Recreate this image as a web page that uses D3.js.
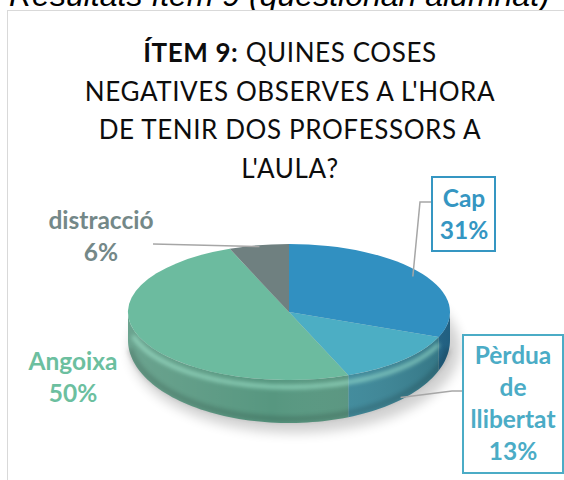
<!DOCTYPE html>
<html>
<head>
<meta charset="utf-8">
<script src="https://cdn.jsdelivr.net/npm/d3@7"></script>
<style>
  body { margin: 0; background: #fff; }
  svg { display: block; }
</style>
</head>
<body>
<div class="container"></div>
<script>
// data
var categories = ['Cap', 'Pèrdua de llibertat', 'Angoixa', 'distracció'];
var values = [31, 13, 50, 6];
var colors = ['#3190c1', '#4caec4', '#6cbb9f', '#6f8080'];
var labelColors = ['#3596c2', '#4bacc6', '#6cbf9f', '#748888'];
var titleBold = 'ÍTEM 9:';
var titleLines = [' QUINES COSES', 'NEGATIVES OBSERVES A L\'HORA', 'DE TENIR DOS PROFESSORS A', 'L\'AULA?'];
var caption = 'Resultats ítem 9 (qüestionari alumnat)';

var w = 564;
var h = 480;
var font = 'Lato, "Open Sans", sans-serif';

var svg = d3.select('.container')
  .append('svg')
  .attr('width', w)
  .attr('height', h);

var defs = svg.append('defs');
defs.append('filter').attr('id', 'blur6')
  .attr('x', '-20%').attr('y', '-20%').attr('width', '140%').attr('height', '140%')
  .append('feGaussianBlur').attr('stdDeviation', 6);
defs.append('filter').attr('id', 'blur2')
  .attr('x', '-20%').attr('y', '-50%').attr('width', '140%').attr('height', '200%')
  .append('feGaussianBlur').attr('stdDeviation', 2);

/* caption cut off at the top (as in the screenshot) + chart frame */
svg.append('text')
  .attr('x', 9).attr('y', 6)
  .attr('font-family', 'Liberation Sans, Arial, sans-serif')
  .attr('font-style', 'italic')
  .attr('font-size', '32px')
  .attr('fill', '#000')
  .text(caption);

svg.append('rect')
  .attr('x', 7.5).attr('y', 10.5)
  .attr('width', 620).attr('height', 520)
  .attr('fill', '#fff')
  .attr('stroke', '#d9d9d9');

/* title */
var title = svg.append('text')
  .attr('text-anchor', 'middle')
  .attr('font-family', font)
  .attr('font-size', '26px')
  .attr('letter-spacing', '0.6px')
  .attr('fill', '#0d0d0d');

titleLines.forEach(function(line, i) {
  var t = title.append('tspan')
    .attr('x', 290)
    .attr('y', 62 + i * 38.5);
  if (i === 0) {
    t.append('tspan').attr('font-weight', 'bold').text(titleBold);
    t.append('tspan').text(line);
  } else {
    t.text(line);
  }
});

/* pie geometry */
var cx = 289, cy = 312, rx = 161, ry = 68;
var cy2 = 340, ry2 = 83;

var pie = d3.pie().sort(null).value(function(d) { return d; });
var arcs = pie(values);

function topPt(a) { return [cx + rx * Math.sin(a), cy - ry * Math.cos(a)]; }
function botPt(a) { return [cx + rx * Math.sin(a), cy2 - ry2 * Math.cos(a)]; }

var line = d3.line();

function rimPts(a0, a1, fn) {
  var n = Math.max(2, Math.ceil((a1 - a0) * 30));
  return d3.range(n + 1).map(function(k) { return fn(a0 + (a1 - a0) * k / n); });
}

function sidePath(a0, a1) {
  var pts = rimPts(a0, a1, topPt).concat(rimPts(a0, a1, botPt).reverse());
  return line(pts) + 'Z';
}

/* shadow */
svg.append('ellipse')
  .attr('cx', cx + 6).attr('cy', cy2 + 8)
  .attr('rx', rx + 4).attr('ry', ry2 + 2)
  .attr('fill', '#000')
  .attr('opacity', 0.18)
  .attr('filter', 'url(#blur6)');

/* sides (front half only) */
var side = svg.append('g');
arcs.forEach(function(d, i) {
  var a0 = Math.max(d.startAngle, Math.PI / 2);
  var a1 = Math.min(d.endAngle, Math.PI * 3 / 2);
  if (a1 <= a0) return;
  side.append('path')
    .attr('d', sidePath(a0, a1))
    .attr('fill', d3.color(colors[i]).darker(0.6));
});

var sideGrad = defs.append('linearGradient').attr('id', 'sideShade')
  .attr('x1', 0).attr('x2', 1).attr('y1', 0).attr('y2', 0);
sideGrad.append('stop').attr('offset', '0%').attr('stop-color', '#fff').attr('stop-opacity', 0.12);
sideGrad.append('stop').attr('offset', '45%').attr('stop-color', '#fff').attr('stop-opacity', 0);
sideGrad.append('stop').attr('offset', '100%').attr('stop-color', '#000').attr('stop-opacity', 0.18);

side.append('path')
  .attr('d', sidePath(Math.PI / 2, Math.PI * 3 / 2))
  .attr('fill', 'url(#sideShade)');

// bevel highlight under the rim and dark bottom edge
side.append('path')
  .attr('d', line(rimPts(Math.PI * 0.62, Math.PI * 1.42, function(a) {
    var p = topPt(a); return [p[0], p[1] + 7];
  })))
  .attr('fill', 'none')
  .attr('stroke', '#aef5dc')
  .attr('stroke-width', 4)
  .attr('opacity', 0.6)
  .attr('filter', 'url(#blur2)');

side.append('path')
  .attr('d', line(rimPts(Math.PI * 0.55, Math.PI * 1.45, function(a) {
    var p = botPt(a); return [p[0], p[1] - 4];
  })))
  .attr('fill', 'none')
  .attr('stroke', '#000')
  .attr('stroke-width', 6)
  .attr('opacity', 0.14)
  .attr('filter', 'url(#blur2)');

/* top face */
var arc = d3.arc().innerRadius(0).outerRadius(rx);
svg.append('g')
  .attr('transform', 'translate(' + cx + ',' + cy + ') scale(1,' + (ry / rx) + ')')
  .selectAll('path')
  .data(arcs)
  .enter()
  .append('path')
  .attr('d', arc)
  .attr('fill', function(d, i) { return colors[i]; });

/* data labels */
var labelLayout = [
  { x: 464, y: 207, box: [432, 177, 63, 74], leader: [[432, 202], [420, 202]], end: 'top', k: 0.93 },
  { x: 513, y: 364, box: [463, 335, 100, 138], leader: [[463, 391], [452, 391]], end: 'bot', k: 0.98 },
  { x: 73, y: 370 },
  { x: 101, y: 229, leader: [[153, 244]], end: 'top', k: 0.98 }
];

arcs.forEach(function(d, i) {
  var L = labelLayout[i];
  var mid = (d.startAngle + d.endAngle) / 2;
  if (L.leader) {
    var base = L.end === 'top' ? cy : cy2;
    var p = L.end === 'top' ? topPt(mid) : botPt(mid);
    p = [cx + (p[0] - cx) * L.k, base + (p[1] - base) * L.k];
    svg.append('path')
      .attr('d', line(L.leader.concat([p])))
      .attr('fill', 'none')
      .attr('stroke', '#a6a6a6')
      .attr('stroke-width', 1.5);
  }
  if (L.box) {
    svg.append('rect')
      .attr('x', L.box[0]).attr('y', L.box[1])
      .attr('width', L.box[2]).attr('height', L.box[3])
      .attr('fill', '#fff')
      .attr('stroke', labelColors[i])
      .attr('stroke-width', 2);
  }
  var lines = categories[i].split(' ').concat([values[i] + '%']);
  var t = svg.append('text')
    .attr('text-anchor', 'middle')
    .attr('font-family', font)
    .attr('font-weight', 'bold')
    .attr('font-size', '24.5px')
    .attr('fill', labelColors[i]);
  lines.forEach(function(s, j) {
    t.append('tspan').attr('x', L.x).attr('y', L.y + j * 32).text(s);
  });
});
</script>
</body>
</html>
